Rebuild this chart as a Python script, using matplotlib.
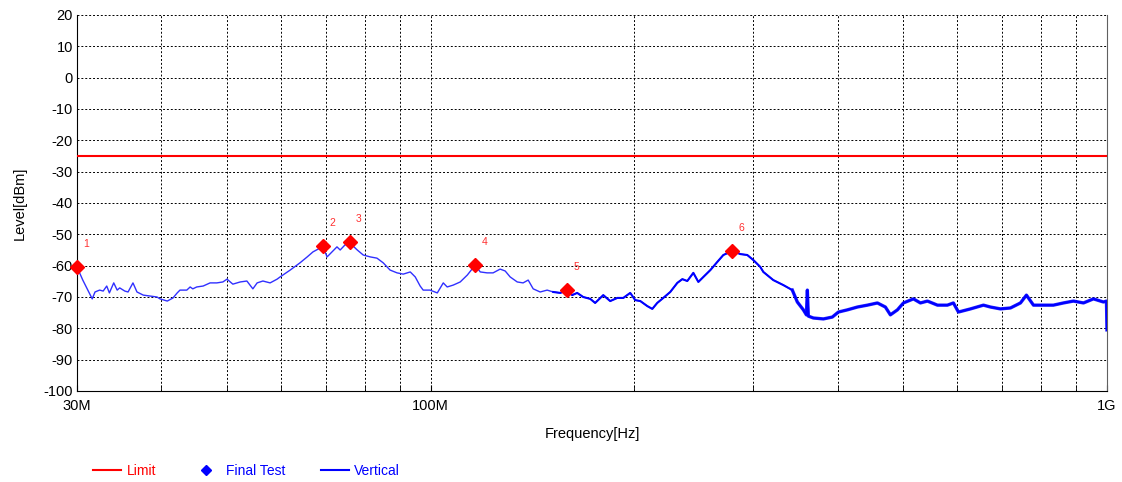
import numpy as np
import matplotlib
matplotlib.use('Agg')
import matplotlib.pyplot as plt
from matplotlib.lines import Line2D
from matplotlib.ticker import FixedLocator, NullFormatter

plt.rcParams['font.family'] = ['Liberation Sans', 'DejaVu Sans']
plt.rcParams['font.size'] = 10
plt.rcParams['axes.unicode_minus'] = False

### Measured trace (frequency in MHz, level in dBm)
trace_mhz = [30.0, 30.6, 31.6, 31.9, 32.4, 32.8, 33.2, 33.5, 34.0, 34.4,
             34.7, 35.3, 35.7, 36.3, 36.8, 37.6, 38.5, 39.4, 39.8, 40.8,
             41.6, 42.2, 42.6, 43.6, 44.1, 44.5, 45.1, 46.1, 47.2, 48.3,
             49.3, 50.0, 51.0, 52.3, 53.5, 54.6, 55.4, 56.5, 57.9, 59.3,
             59.9, 62.0, 64.1, 65.7, 67.0, 68.2, 69.3, 70.3, 71.5, 72.7,
             73.5, 74.7, 76.0, 77.9, 79.5, 81.4, 83.3, 85.1, 87.1, 89.2,
             91.1, 93.3, 94.9, 96.5, 97.5, 99.8, 102.3, 104.4, 105.8, 108.0,
             110.6, 113.3, 116.4, 118.4, 121.2, 123.7, 126.7, 128.9, 131.1, 134.3,
             137.0, 139.4, 141.8, 145.2, 148.7, 151.8, 155.5, 159.2, 161.9, 164.7,
             168.1, 172.2, 175.1, 180.0, 184.3, 188.8, 192.7, 197.3, 200.7, 204.2,
             209.1, 212.7, 216.3, 220.8, 226.1, 231.6, 235.6, 239.6, 244.6, 248.8,
             253.1, 259.2, 265.4, 270.9, 279.3, 287.0, 293.9, 300.0, 307.2, 310.4,
             321.1, 332.3, 342.6, 348.5, 355.7, 359.4, 360.6, 361.8, 368.0, 380.8,
             392.6, 400.8, 413.3, 427.6, 442.4, 457.7, 470.3, 478.4, 490.0, 500.1,
             517.4, 529.9, 542.7, 561.5, 580.9, 592.9, 603.1, 628.3, 656.7, 672.5,
             695.9, 720.0, 744.9, 760.2, 778.6, 805.7, 833.4, 862.3, 892.1, 923.1,
             955.1, 988.2, 998.3, 1000.0]
trace_dbm = [-60.4, -64.6, -70.6, -68.4, -67.8, -68.1, -66.5, -68.7, -65.5, -67.8,
             -67.1, -68.1, -68.4, -65.5, -68.4, -69.4, -69.7, -70.0, -70.6, -71.3,
             -70.3, -68.7, -67.8, -67.8, -66.8, -67.4, -66.8, -66.5, -65.5, -65.5,
             -65.2, -64.3, -65.9, -65.2, -64.9, -67.4, -65.5, -64.9, -65.5, -64.3,
             -63.6, -61.4, -59.1, -57.2, -55.6, -54.7, -54.0, -57.2, -55.6, -54.0,
             -55.0, -53.4, -52.8, -55.0, -56.6, -57.2, -57.6, -59.1, -61.4, -62.3,
             -62.7, -62.0, -63.6, -66.5, -67.8, -67.8, -68.7, -65.5, -66.8, -66.2,
             -65.2, -63.0, -59.8, -62.0, -62.3, -62.3, -61.1, -61.7, -63.6, -65.2,
             -65.5, -64.6, -67.4, -68.4, -67.8, -68.4, -68.7, -67.8, -69.4, -68.7,
             -70.0, -70.6, -71.9, -69.4, -71.3, -70.3, -70.3, -68.7, -71.0, -71.3,
             -72.9, -73.8, -71.9, -70.3, -68.4, -65.5, -64.3, -64.9, -62.3, -65.2,
             -63.6, -61.4, -58.8, -56.6, -55.3, -56.3, -56.6, -58.2, -60.4, -62.0,
             -64.6, -66.2, -67.8, -71.6, -74.1, -75.7, -67.8, -76.1, -76.7, -77.0,
             -76.4, -74.8, -74.1, -73.2, -72.6, -71.9, -73.2, -75.7, -74.1, -71.9,
             -70.6, -71.9, -71.3, -72.6, -72.6, -71.9, -74.8, -73.8, -72.6, -73.2,
             -73.8, -73.5, -71.9, -69.4, -72.6, -72.6, -72.6, -71.9, -71.3, -71.9,
             -70.6, -71.6, -71.3, -80.5]

### Final test peaks
peak_mhz = [30.0, 69.3, 76.0, 116.4, 159.2, 279.3]
peak_dbm = [-60.4, -53.8, -52.6, -59.8, -67.8, -55.2]
peak_labels = ['1', '2', '3', '4', '5', '6']

### Limit line
limit_dbm = -25

trace_hz = np.array(trace_mhz) * 1e6
trace_lv = np.array(trace_dbm)
peak_hz = np.array(peak_mhz) * 1e6

fig = plt.figure(figsize=(11.22, 4.82), dpi=100)
ax = fig.add_axes([0.0686, 0.1888, 0.918, 0.7801])

ax.set_xscale('log')
ax.set_xlim(30e6, 1e9)
ax.set_ylim(-100, 20)

### Trace gets denser at high frequency, so draw it thicker there
ax.plot(trace_hz, trace_lv, color='#3030ff', lw=1.0, zorder=3)
hi = trace_hz >= 150e6
ax.plot(trace_hz[hi], trace_lv[hi], color='#0000ff', lw=1.5, zorder=3)
hi2 = trace_hz >= 340e6
ax.plot(trace_hz[hi2], trace_lv[hi2], color='#0000ff', lw=2.4, alpha=0.85, zorder=3)

ax.axhline(limit_dbm, color='#ff0000', lw=1.5, zorder=4)

ax.plot(peak_hz, peak_dbm, linestyle='none', marker='D', markersize=7,
        color='#ff0000', zorder=5, clip_on=False)
for f, v, t in zip(peak_hz, peak_dbm, peak_labels):
    ax.annotate(t, (f, v), xytext=(9, 23), textcoords='offset pixels',
                color='#ff3030', fontsize=7.5, ha='center', va='center')

### Ticks and grid
ax.xaxis.set_major_locator(FixedLocator([30e6, 100e6, 1e9]))
ax.set_xticklabels(['30M', '100M', '1G'])
minors = [40e6, 50e6, 60e6, 70e6, 80e6, 90e6,
          200e6, 300e6, 400e6, 500e6, 600e6, 700e6, 800e6, 900e6]
ax.xaxis.set_minor_locator(FixedLocator(minors))
ax.xaxis.set_minor_formatter(NullFormatter())
ax.set_yticks(np.arange(-100, 21, 10))
ax.tick_params(axis='x', which='both', direction='in', length=4, pad=6,
               labelsize=10.5)
ax.tick_params(axis='y', length=0, pad=3, labelsize=10.5)
ax.grid(True, which='both', color='black', linestyle=(0, (2, 2)), lw=0.7)

ax.spines['top'].set_visible(False)
ax.spines['right'].set_color('#606060')

ax.set_xlabel('Frequency[Hz]', labelpad=10, fontsize=10.5)
ax.set_ylabel('Level[dBm]', labelpad=12, fontsize=10.5)

### Legend below the plot
handles = [Line2D([], [], color='#ff0000', lw=1.5),
           Line2D([], [], color='#0000ff', linestyle='none', marker='D', markersize=5),
           Line2D([], [], color='#0000ff', lw=1.5)]
fig.legend(handles, ['Limit', 'Final Test', 'Vertical'], loc='center left',
           bbox_to_anchor=(0.072, 0.023), ncol=3, frameon=False,
           labelcolor=['#ff0000', '#0000ff', '#0000ff'], fontsize=10,
           handlelength=2.0, columnspacing=2.6, handletextpad=0.4)

fig.savefig('out.png', dpi=100)
